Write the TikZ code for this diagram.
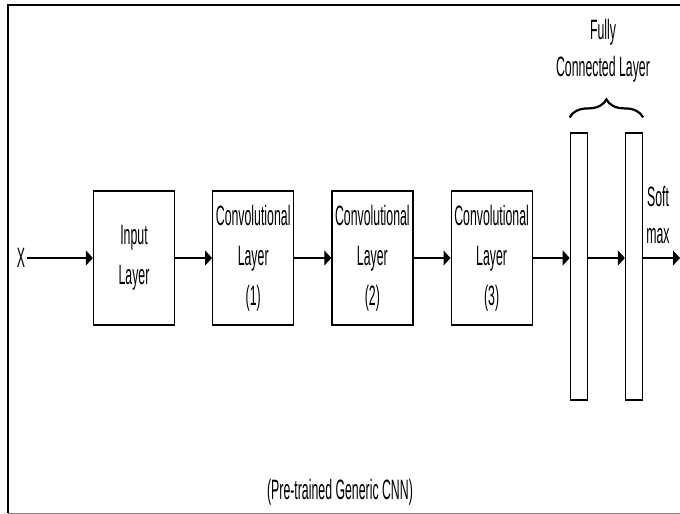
\documentclass[tikz,border=0pt]{standalone}
\usepackage{fontspec}
\setmainfont{Liberation Sans}[FakeStretch=0.44]
\usepackage{tikz}
\usetikzlibrary{arrows.meta,positioning,decorations.pathreplacing}
\tikzstyle{layer} = [rectangle, minimum width=81pt, minimum height=134pt, inner sep=0pt, text centered, align=center, draw=black, line width=1.2pt, font=\fontsize{28}{40}\selectfont]
\tikzstyle{fcbar} = [rectangle, minimum width=17pt, minimum height=267pt, inner sep=0pt, draw=black, line width=1.2pt]
\tikzstyle{arrow} = [line width=1.2pt, -{Triangle[length=7pt,width=15pt]}]
\tikzstyle{plaintext} = [inner sep=2pt, align=center, font=\fontsize{28}{37}\selectfont]

\begin{document}
\begin{tikzpicture}[x=1pt,y=-1pt]
\useasboundingbox (0,0) rectangle (680,514);
% frame
\draw[line width=2.5pt] (680,5) -- (8,5) -- (8,513);
\draw[gray, line width=1pt] (8,513) -- (680,513);

\node[plaintext] (x) at (21,258) {X};
\node[layer] (input) at (134,258) {Input\\Layer};
\node[layer, right=37pt of input] (conv1) {Convolutional\\Layer\\(1)};
\node[layer, right=37pt of conv1] (conv2) {Convolutional\\Layer\\(2)};
\node[layer, right=37pt of conv2] (conv3) {Convolutional\\Layer\\(3)};
\node[fcbar, right=37pt of conv3, yshift=-8.5pt] (fc1) {};
\node[fcbar, right=37pt of fc1] (fc2) {};
\coordinate (out) at (680,258);

\node[plaintext] (softmax) at (658,215) {Soft\\max};
\node[plaintext] (fclabel) at (603,51) {Fully\\Connected Layer};
\node[plaintext] (caption) at (340,492) {(Pre-trained Generic CNN)};

\draw[arrow] (x) -- (input);
\draw[arrow] (input) -- (conv1);
\draw[arrow] (conv1) -- (conv2);
\draw[arrow] (conv2) -- (conv3);
\draw[arrow] (conv3.east) -- (conv3.east -| fc1.west);
\draw[arrow] (conv3.east -| fc1.east) -- (conv3.east -| fc2.west);
\draw[arrow] (conv3.east -| fc2.east) -- (out);

\draw[decorate, decoration={brace, amplitude=18pt}, line width=2.2pt]
  ([yshift=15pt]fc1.north west) -- ([yshift=15pt]fc2.north east);
\end{tikzpicture}
\end{document}
